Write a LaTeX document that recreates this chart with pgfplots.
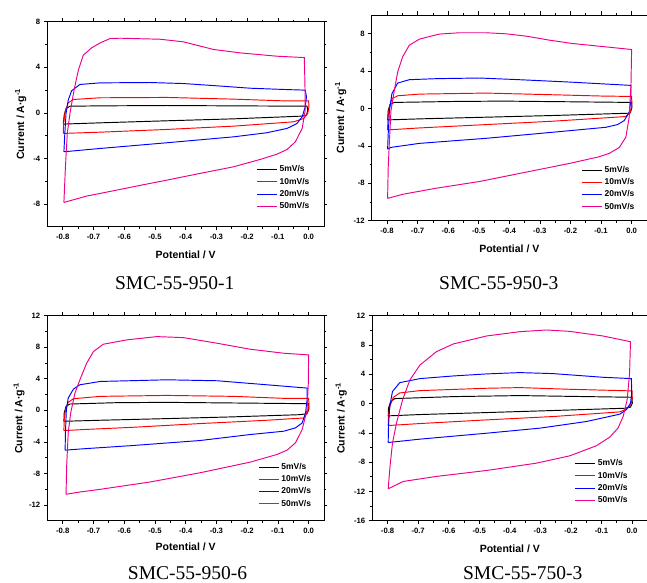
\documentclass[border=0pt]{standalone}
\usepackage{fontspec}
\setmainfont{Liberation Sans}
\newfontfamily\capfont{Liberation Serif}
\usepackage{pgfplots}
\pgfplotsset{compat=1.18}

\pgfplotsset{
  cvaxis/.style={
    scale only axis,
    anchor=south west,
    xmin=-0.85, xmax=0.05,
    xtick={-0.8,-0.7,-0.6,-0.5,-0.4,-0.3,-0.2,-0.1,0},
    minor x tick num=1, minor y tick num=1,
    tick align=outside, tick pos=both,
    major tick length=3.5pt, minor tick length=2pt,
    axis line style={line width=0.8pt},
    every tick/.style={line width=0.6pt, black},
    tick label style={font=\fontsize{7.7}{9}\selectfont\bfseries},
    /pgf/number format/assume math mode=true,
    xticklabel style={/pgf/number format/fixed, /pgf/number format/fixed zerofill, /pgf/number format/precision=1},
    label style={font=\fontsize{10.5}{12}\selectfont\bfseries},
    xlabel={Potential / V},
    ylabel={Current / A·g\textsuperscript{-1}},
    ylabel style={anchor=center},
    xlabel style={anchor=center},
    legend style={draw=none, fill=none, font=\fontsize{8.5}{10}\selectfont\bfseries, anchor=north west, cells={anchor=west}, row sep=0.6pt},
    legend image code/.code={\draw[##1, line width=1pt] (0pt,0pt) -- (20pt,0pt);},
    every axis plot/.append style={line width=0.95pt},
  }
}

\begin{document}
\begin{tikzpicture}

% SMC-55-950-1
\begin{axis}[cvaxis, at={(47.3pt,355.3pt)}, width=276.7pt, height=205pt,
  ymin=-10, ymax=8, ytick={-8,-4,0,4,8},
  xlabel style={at={(axis description cs:0.5,-0.138)}},
  ylabel style={at={(axis description cs:-0.096,0.5)}},
  legend style={at={(axis description cs:0.745,0.318)}}]
\addplot[black] coordinates {(-0.798,-0.99) (-0.795,-0.2) (-0.789,0.38) (-0.776,0.58) (-0.678,0.61) (-0.461,0.64) (-0.244,0.61) (-0.005,0.58) (-0.003,0.23) (-0.007,-0.2) (-0.021,-0.29) (-0.244,-0.53) (-0.461,-0.70) (-0.678,-0.88) (-0.798,-0.99)};
\addplot[red] coordinates {(-0.798,-1.81) (-0.797,-0.94) (-0.792,0.09) (-0.782,0.88) (-0.765,1.17) (-0.678,1.32) (-0.461,1.35) (-0.244,1.2) (-0.081,1.05) (0.0,1.05) (0.001,0.53) (-0.003,-0.06) (-0.016,-0.5) (-0.049,-0.79) (-0.244,-1.17) (-0.461,-1.46) (-0.678,-1.70) (-0.798,-1.81)};
\addplot[blue] coordinates {(-0.796,-3.42) (-0.793,-1.81) (-0.789,-0.06) (-0.782,1.11) (-0.771,1.93) (-0.744,2.49) (-0.678,2.63) (-0.516,2.66) (-0.407,2.57) (-0.298,2.37) (-0.19,2.16) (-0.081,2.05) (-0.011,1.99) (-0.007,1.4) (-0.011,0.53) (-0.021,-0.35) (-0.038,-0.94) (-0.07,-1.37) (-0.136,-1.75) (-0.244,-2.11) (-0.461,-2.63) (-0.678,-3.13) (-0.796,-3.42)};
\addplot[magenta] coordinates {(-0.796,-7.87) (-0.791,-4.74) (-0.785,-1.81) (-0.776,0.0) (-0.763,1.99) (-0.749,3.74) (-0.733,5.06) (-0.706,5.7) (-0.678,6.14) (-0.646,6.52) (-0.613,6.55) (-0.483,6.46) (-0.407,6.23) (-0.309,5.56) (-0.222,5.26) (-0.103,4.97) (-0.014,4.85) (-0.012,2.57) (-0.011,0.23) (-0.021,-1.37) (-0.043,-2.54) (-0.07,-3.22) (-0.103,-3.63) (-0.157,-4.09) (-0.244,-4.74) (-0.353,-5.32) (-0.461,-5.91) (-0.57,-6.49) (-0.678,-7.08) (-0.722,-7.31) (-0.796,-7.87)};
\legend{5mV/s,10mV/s,20mV/s,50mV/s}
\end{axis}

% SMC-55-950-3
\begin{axis}[cvaxis, at={(371.7pt,361.3pt)}, width=275.2pt, height=205.7pt,
  ymin=-12, ymax=10, ytick={-12,-8,-4,0,4,8},
  xlabel style={at={(axis description cs:0.5,-0.139)}},
  ylabel style={at={(axis description cs:-0.113,0.5)}},
  legend style={at={(axis description cs:0.751,0.285)}}]
\addplot[black] coordinates {(-0.798,-1.22) (-0.796,-0.22) (-0.79,0.43) (-0.776,0.65) (-0.585,0.75) (-0.422,0.79) (-0.204,0.72) (0.0,0.65) (0.001,0.07) (-0.005,-0.5) (-0.258,-0.75) (-0.476,-0.93) (-0.694,-1.11) (-0.798,-1.22)};
\addplot[red] coordinates {(-0.798,-2.29) (-0.797,-0.93) (-0.792,0.14) (-0.784,1.04) (-0.765,1.36) (-0.694,1.54) (-0.476,1.65) (-0.258,1.47) (-0.095,1.33) (0.0,1.29) (0.001,0.5) (-0.004,-0.39) (-0.019,-0.86) (-0.258,-1.36) (-0.476,-1.72) (-0.694,-2.08) (-0.798,-2.29)};
\addplot[blue] coordinates {(-0.798,-4.34) (-0.796,-2.72) (-0.792,-0.22) (-0.784,1.58) (-0.765,2.72) (-0.727,3.08) (-0.64,3.19) (-0.498,3.26) (-0.367,3.08) (-0.204,2.83) (-0.002,2.47) (-0.002,0.86) (-0.008,-0.39) (-0.024,-1.29) (-0.046,-1.72) (-0.084,-2.01) (-0.258,-2.54) (-0.476,-3.19) (-0.694,-3.73) (-0.787,-4.16) (-0.798,-4.34)};
\addplot[magenta] coordinates {(-0.798,-9.61) (-0.796,-6.31) (-0.792,-3.44) (-0.787,-0.22) (-0.776,1.94) (-0.765,3.91) (-0.749,5.52) (-0.727,6.77) (-0.694,7.42) (-0.629,7.96) (-0.563,8.1) (-0.476,8.1) (-0.411,7.99) (-0.345,7.74) (-0.269,7.31) (-0.193,6.95) (-0.084,6.59) (0.0,6.31) (-0.002,2.65) (-0.008,-0.93) (-0.019,-3.08) (-0.04,-4.16) (-0.073,-4.8) (-0.106,-5.16) (-0.204,-5.88) (-0.367,-6.95) (-0.498,-7.81) (-0.64,-8.53) (-0.749,-9.18) (-0.798,-9.61)};
\legend{5mV/s,10mV/s,20mV/s,50mV/s}
\end{axis}

% SMC-55-950-6
\begin{axis}[cvaxis, at={(47.3pt,61.3pt)}, width=276.7pt, height=205pt,
  ymin=-14, ymax=12, ytick={-12,-8,-4,0,4,8,12},
  xlabel style={at={(axis description cs:0.5,-0.129)}},
  ylabel style={at={(axis description cs:-0.102,0.5)}},
  legend style={at={(axis description cs:0.751,0.301)}}]
\addplot[black] coordinates {(-0.796,-1.39) (-0.795,-0.34) (-0.789,0.51) (-0.776,0.8) (-0.624,0.97) (-0.461,1.01) (-0.244,0.93) (0.0,0.84) (0.001,0.17) (-0.005,-0.42) (-0.027,-0.55) (-0.255,-0.84) (-0.461,-1.05) (-0.678,-1.26) (-0.796,-1.39)};
\addplot[red] coordinates {(-0.796,-2.57) (-0.795,-1.18) (-0.791,0.0) (-0.782,1.01) (-0.765,1.47) (-0.678,1.77) (-0.461,1.89) (-0.244,1.77) (-0.081,1.52) (0.0,1.52) (0.001,0.72) (-0.003,-0.25) (-0.016,-0.97) (-0.136,-1.26) (-0.353,-1.68) (-0.57,-2.15) (-0.733,-2.44) (-0.796,-2.57)};
\addplot[blue] coordinates {(-0.792,-5.05) (-0.791,-2.86) (-0.788,0.08) (-0.782,1.56) (-0.765,2.69) (-0.744,3.24) (-0.678,3.66) (-0.461,3.87) (-0.298,3.75) (-0.136,3.24) (-0.005,2.82) (-0.005,1.35) (-0.01,-0.34) (-0.021,-1.6) (-0.043,-2.23) (-0.081,-2.65) (-0.19,-3.07) (-0.353,-3.83) (-0.57,-4.46) (-0.733,-4.88) (-0.792,-5.05)};
\addplot[magenta] coordinates {(-0.789,-10.65) (-0.787,-7.07) (-0.782,-2.86) (-0.774,-0.34) (-0.76,2.19) (-0.744,3.87) (-0.722,5.98) (-0.7,7.45) (-0.668,8.38) (-0.592,8.93) (-0.494,9.35) (-0.407,9.22) (-0.298,8.51) (-0.19,7.75) (-0.081,7.24) (0.0,7.03) (-0.001,3.45) (-0.005,0.08) (-0.021,-2.44) (-0.043,-4.13) (-0.07,-5.05) (-0.103,-5.6) (-0.19,-6.57) (-0.353,-7.92) (-0.516,-9.09) (-0.678,-10.02) (-0.744,-10.36) (-0.789,-10.65)};
\legend{5mV/s,10mV/s,20mV/s,50mV/s}
\end{axis}

% SMC-55-750-3
\begin{axis}[cvaxis, at={(372.3pt,61.3pt)}, width=275pt, height=205pt,
  ymin=-16, ymax=12, ytick={-16,-12,-8,-4,0,4,8,12},
  xlabel style={at={(axis description cs:0.5,-0.138)}},
  ylabel style={at={(axis description cs:-0.113,0.5)}},
  legend style={at={(axis description cs:0.725,0.318)}}]
\addplot[black] coordinates {(-0.798,-1.68) (-0.797,-0.64) (-0.79,0.27) (-0.776,0.68) (-0.585,0.95) (-0.367,1.09) (-0.149,0.95) (0.0,0.86) (0.001,0.05) (-0.005,-0.5) (-0.024,-0.64) (-0.258,-0.95) (-0.476,-1.23) (-0.694,-1.5) (-0.798,-1.68)};
\addplot[red] coordinates {(-0.798,-3.0) (-0.797,-1.55) (-0.792,-0.32) (-0.781,0.86) (-0.76,1.45) (-0.694,1.77) (-0.476,2.09) (-0.367,2.18) (-0.204,1.95) (0.0,1.73) (0.001,0.73) (-0.004,-0.18) (-0.019,-0.77) (-0.04,-1.14) (-0.258,-1.77) (-0.476,-2.23) (-0.694,-2.73) (-0.798,-3.0)};
\addplot[blue] coordinates {(-0.798,-5.32) (-0.797,-3.14) (-0.793,-0.41) (-0.784,1.64) (-0.76,2.86) (-0.694,3.41) (-0.585,3.77) (-0.476,4.05) (-0.367,4.23) (-0.258,4.09) (-0.095,3.59) (-0.002,3.41) (-0.001,1.41) (-0.005,0.05) (-0.019,-0.86) (-0.04,-1.45) (-0.149,-2.45) (-0.302,-3.36) (-0.476,-4.05) (-0.694,-4.86) (-0.798,-5.32)};
\addplot[magenta] coordinates {(-0.798,-11.64) (-0.792,-8.59) (-0.784,-5.41) (-0.771,-2.68) (-0.751,0.5) (-0.727,3.23) (-0.694,5.27) (-0.64,7.09) (-0.585,8.14) (-0.476,9.23) (-0.367,9.82) (-0.28,10.05) (-0.204,9.86) (-0.095,9.23) (-0.005,8.45) (-0.008,4.14) (-0.016,0.5) (-0.029,-1.77) (-0.046,-3.36) (-0.073,-4.59) (-0.117,-5.77) (-0.204,-7.14) (-0.313,-8.14) (-0.476,-9.14) (-0.64,-9.95) (-0.749,-10.64) (-0.798,-11.64)};
\legend{5mV/s,10mV/s,20mV/s,50mV/s}
\end{axis}

\begin{scope}[every node/.style={anchor=base, font=\capfont\fontsize{19.5}{22}\selectfont, inner sep=0pt}]
\node at (174.7pt,293pt) {SMC-55-950-1};
\node at (498.8pt,293pt) {SMC-55-950-3};
\node at (187.5pt,3pt) {SMC-55-950-6};
\node at (522.7pt,3pt) {SMC-55-750-3};
\end{scope}

\pgfresetboundingbox
\path[use as bounding box] (0pt,0pt) rectangle (647pt,582pt);
\end{tikzpicture}
\end{document}
